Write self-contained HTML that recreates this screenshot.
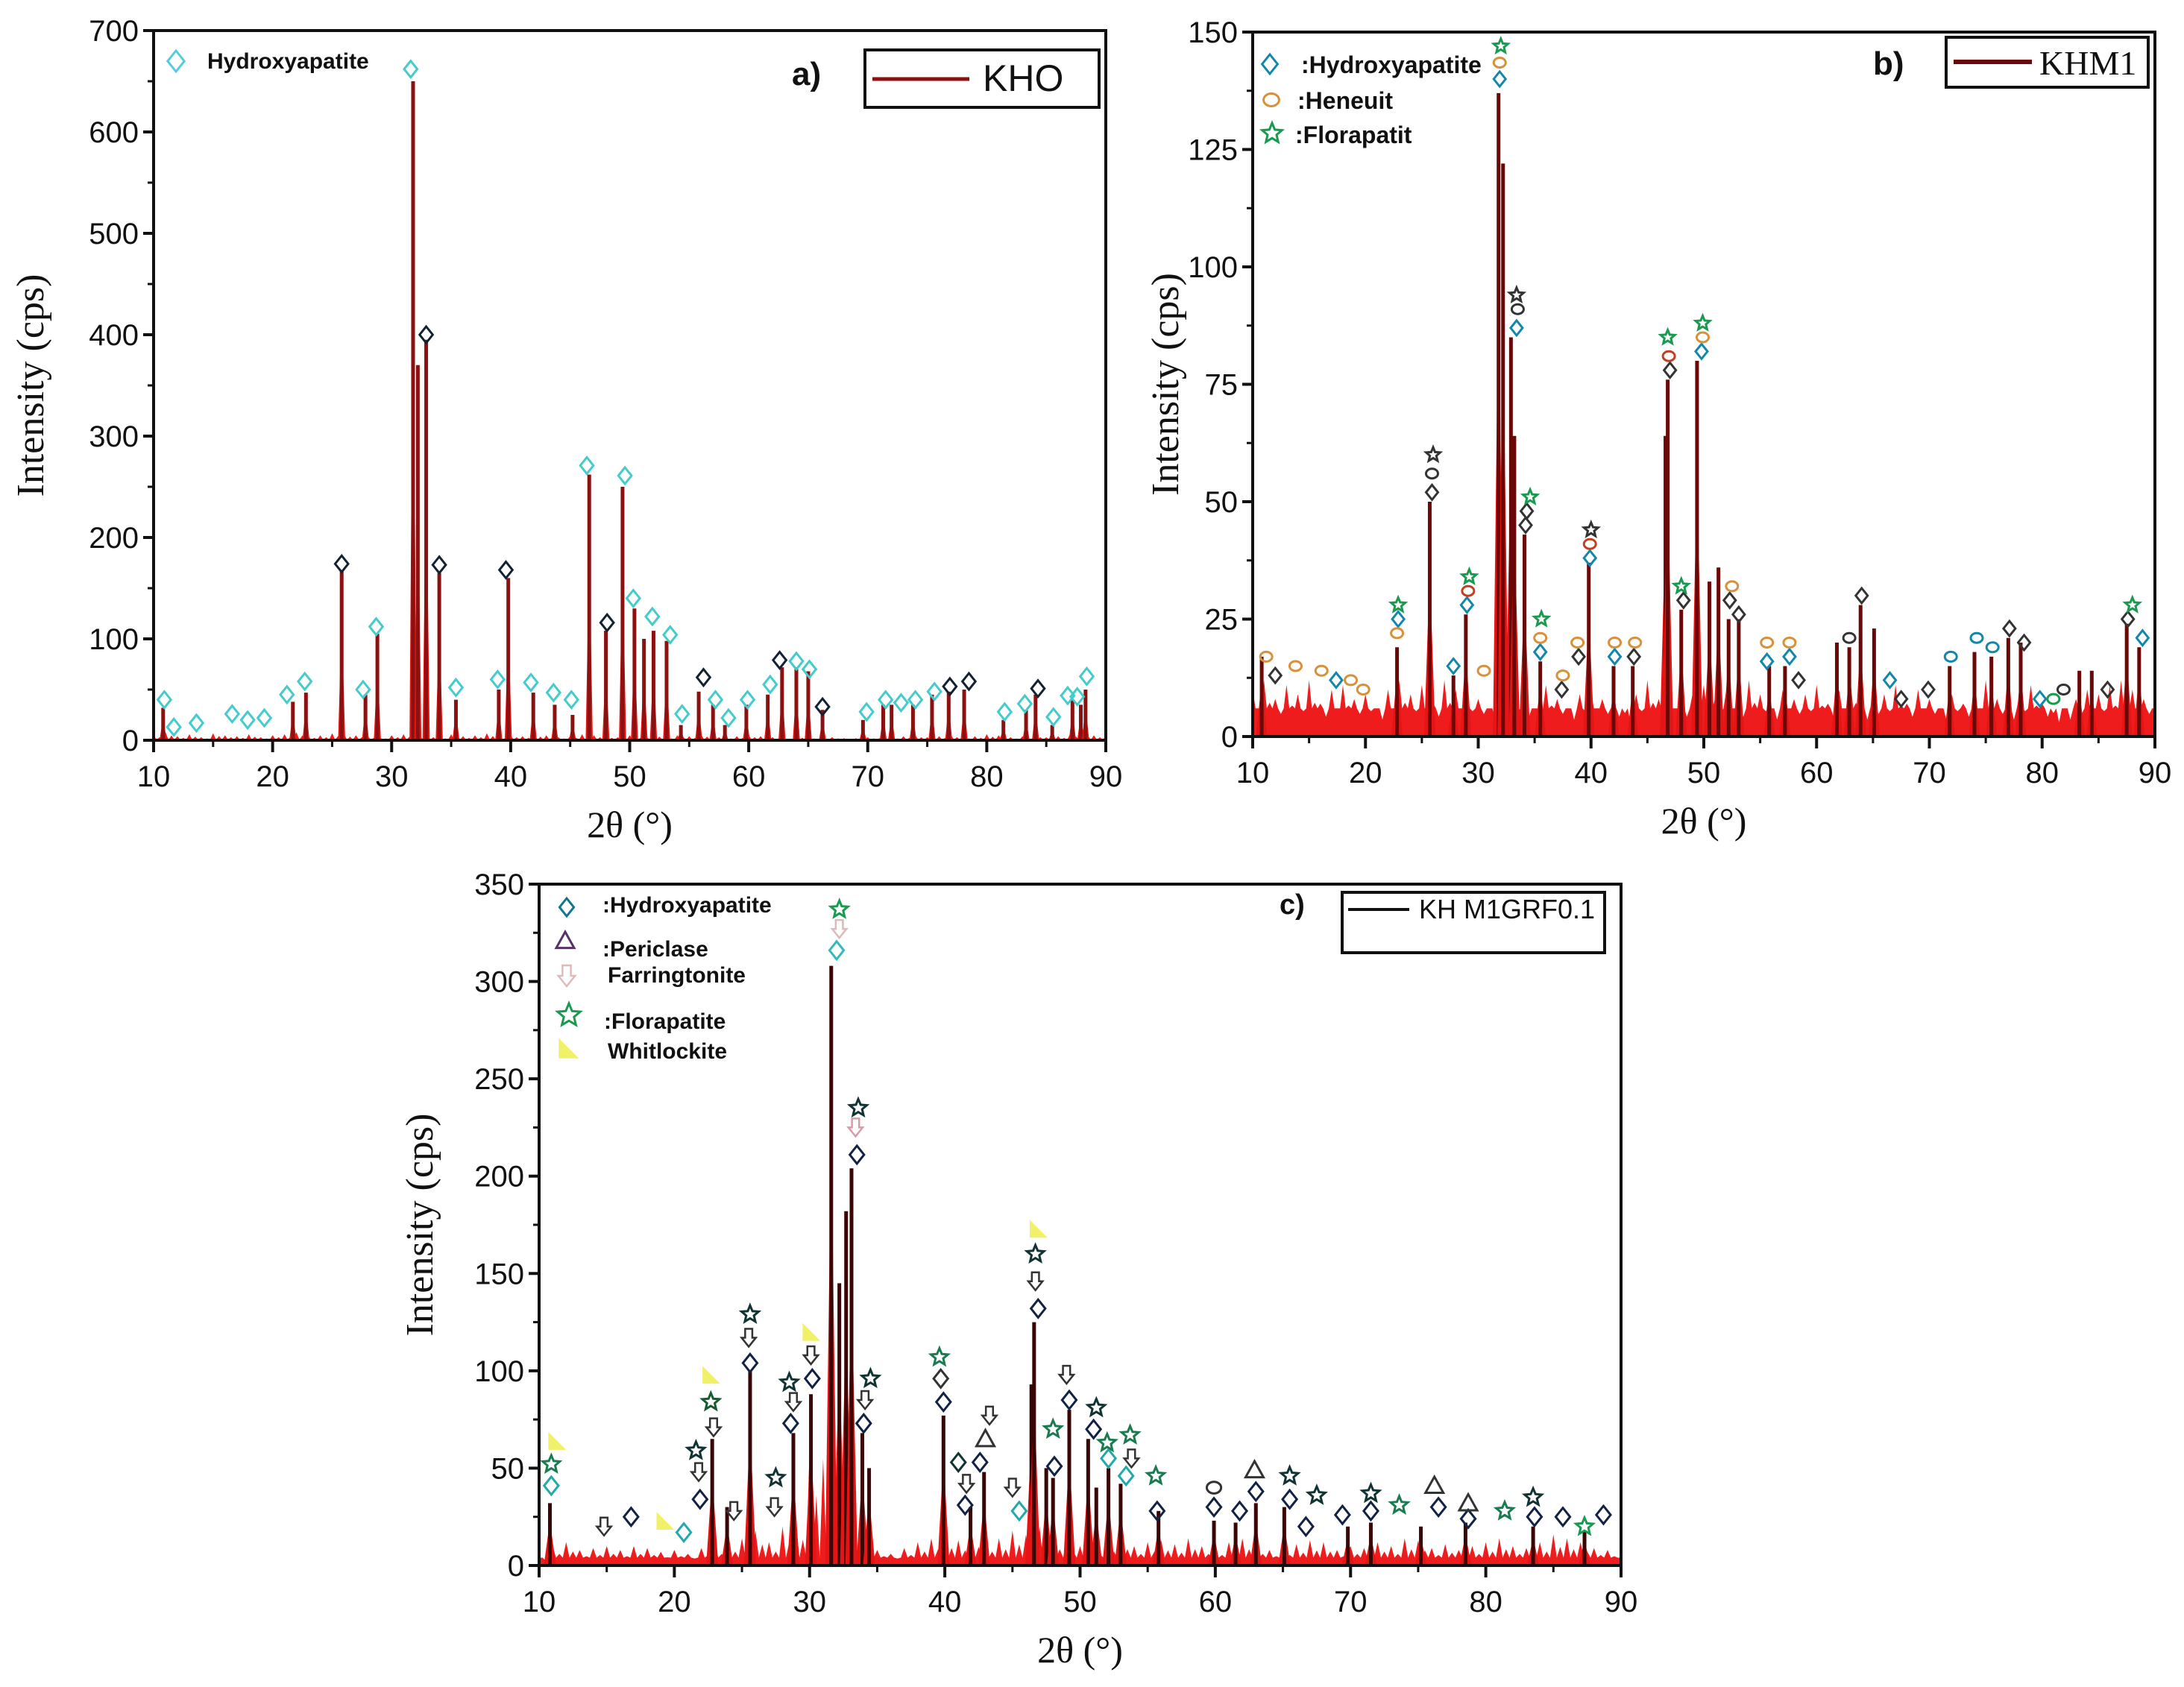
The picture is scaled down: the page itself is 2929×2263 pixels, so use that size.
<!DOCTYPE html>
<html><head><meta charset="utf-8"><style>
html,body{margin:0;padding:0;background:#fff;}
svg{display:block;}
</style></head><body>
<svg id="fig" width="2929" height="2263" viewBox="0 0 2929 2263" xmlns="http://www.w3.org/2000/svg">
<rect x="0" y="0" width="2929" height="2263" fill="#fff"/>
<g id="pa"></g>
<g id="pb"></g>
<g id="pc"></g>
</svg>
<script>
// ---------- data ----------
const xTicks = [10,20,30,40,50,60,70,80,90];
const aYTicks = [0,100,200,300,400,500,600,700];
const bYTicks = [0,25,50,75,100,125,150];
const cYTicks = [0,50,100,150,200,250,300,350];

// baseline noise, every 1 degree from 10 to 90
const aBase = [5,8,4,6,3,7,5,4,6,3,5,6,8,4,5,7,6,5,4,3,5,6,4,5,3,6,4,5,7,3,5,4,6,5,3,4,6,5,4,3,5,4,6,3,5,4,6,5,3,4,5,4,3,2,4,3,2,3,2,2,3,2,3,4,5,3,4,5,3,4,6,5,3,4,5,3,4,6,7,5,4];
const bBase = [10,12,8,11,9,12,7,10,11,8,9,6,10,12,9,11,7,12,10,9,8,6,5,9,7,6,11,8,6,9,10,8,7,5,9,12,8,10,7,9,11,8,10,7,12,9,6,10,8,9,11,7,10,12,6,8,9,11,7,10,8,6,9,7,10,12,8,6,9,11,7,5,6,8,10,9,11,12,10,8,6];
const cBase = [4,10,12,8,9,10,8,10,9,7,8,6,9,10,12,14,18,12,20,22,60,55,40,12,10,8,6,9,12,14,15,13,16,12,14,18,16,20,14,12,10,9,12,14,10,12,13,11,14,10,9,12,14,10,8,9,11,13,12,8,10,9,12,10,14,13,9,11,8,10,12,14,10,9,12,16,14,12,9,8,4];

const aPeakPos = [10.8,21.7,22.8,25.8,27.8,28.8,31.8,32.2,32.9,34.0,35.4,39.0,39.8,41.9,43.7,45.2,46.6,48.0,49.4,50.4,51.2,52.0,53.1,54.3,55.8,57.0,58.0,59.8,61.6,62.8,64.0,65.0,66.2,69.6,71.3,72.0,73.8,75.4,76.8,78.1,81.4,83.3,84.1,85.5,87.2,87.9,88.3];
const aPeakVal = [32,38,47,168,45,105,650,370,395,165,40,50,160,47,35,25,262,108,250,130,100,108,98,15,48,35,15,35,45,72,72,68,30,20,35,35,35,45,48,50,20,30,45,15,40,35,50];

const bPeakPos = [10.8,22.8,25.7,27.8,28.9,31.8,32.2,32.9,33.2,34.1,35.5,39.8,42.0,43.7,46.6,46.8,48.0,49.4,50.5,51.3,52.2,53.1,55.8,57.2,61.8,62.9,63.9,65.1,71.8,74.0,75.5,77.0,78.1,83.3,84.4,87.5,88.6];
const bPeakVal = [17,19,50,13,26,137,122,85,64,43,16,37,15,15,64,76,27,80,33,36,25,25,15,15,20,19,28,23,15,18,17,21,20,14,14,24,19];

const cPeakPos = [10.8,22.8,23.9,25.6,28.8,30.1,31.6,32.2,32.7,33.1,33.9,34.4,39.9,41.9,42.9,46.4,46.6,47.5,48.0,49.2,50.6,51.2,52.1,53.0,55.8,59.9,61.5,63.0,65.1,69.8,71.5,75.2,78.5,83.5,87.3];
const cPeakVal = [32,65,30,100,68,88,308,145,182,204,68,50,77,30,48,93,125,50,45,80,65,40,50,42,28,23,22,32,30,20,22,20,22,20,18];

// markers: [theta, value, type, color]
const aMarks = [[10.9,40,'d','#4cc'],[11.7,13,'d','#4cc'],[13.6,17,'d','#4cc'],[16.6,26,'d','#4cc'],[17.9,20,'d','#4cc'],[19.3,22,'d','#4cc'],[21.2,45,'d','#4cc'],[22.7,58,'d','#4cc'],[25.8,174,'d','#123'],[27.6,50,'d','#4cc'],[28.7,112,'d','#4cc'],[31.6,662,'d','#4cc'],[32.9,400,'d','#123'],[34.0,173,'d','#123'],[35.4,52,'d','#4cc'],[38.9,60,'d','#4cc'],[39.6,168,'d','#123'],[41.7,57,'d','#4cc'],[43.6,47,'d','#4cc'],[45.1,40,'d','#4cc'],[46.4,271,'d','#4cc'],[48.1,116,'d','#123'],[49.6,261,'d','#4cc'],[50.3,140,'d','#4cc'],[51.9,122,'d','#4cc'],[53.4,104,'d','#4cc'],[54.4,26,'d','#4cc'],[56.2,62,'d','#123'],[57.2,40,'d','#4cc'],[58.3,22,'d','#4cc'],[59.9,40,'d','#4cc'],[61.8,55,'d','#4cc'],[62.6,79,'d','#123'],[64.0,78,'d','#4cc'],[65.1,70,'d','#4cc'],[66.2,33,'d','#123'],[69.9,28,'d','#4cc'],[71.5,40,'d','#4cc'],[72.8,37,'d','#4cc'],[74.0,40,'d','#4cc'],[75.6,48,'d','#4cc'],[76.9,53,'d','#123'],[78.5,58,'d','#123'],[81.5,28,'d','#4cc'],[83.2,36,'d','#4cc'],[84.3,51,'d','#123'],[85.6,23,'d','#4cc'],[86.8,44,'d','#4cc'],[87.6,43,'d','#4cc'],[88.4,63,'d','#4cc']];
const bMarks = [[31.9,140,'d','#18a'],[31.9,143.5,'o','#d8903a'],[32.0,147,'s','#1a9a50'],[33.4,87,'d','#18a'],[33.5,91,'o','#333'],[33.4,94,'s','#333'],[34.2,45,'d','#333'],[34.3,48,'d','#333'],[34.6,51,'s','#1a9a50'],[25.9,52,'d','#333'],[25.9,56,'o','#333'],[26.0,60,'s','#333'],[22.9,25,'d','#18a'],[22.8,22,'o','#d8903a'],[22.9,28,'s','#1a9a50'],[29.0,28,'d','#18a'],[29.1,31,'o','#c04020'],[29.2,34,'s','#1a9a50'],[39.9,38,'d','#18a'],[39.9,41,'o','#c04020'],[40.0,44,'s','#333'],[47.0,78,'d','#333'],[46.9,81,'o','#c04020'],[46.8,85,'s','#1a9a50'],[49.8,82,'d','#18a'],[49.9,85,'o','#d8903a'],[49.9,88,'s','#1a9a50'],[48.2,29,'d','#333'],[48.0,32,'s','#1a9a50'],[35.5,18,'d','#18a'],[35.5,21,'o','#d8903a'],[35.6,25,'s','#1a9a50'],[11.2,17,'o','#d8903a'],[12.0,13,'d','#333'],[13.8,15,'o','#d8903a'],[16.1,14,'o','#d8903a'],[17.4,12,'d','#18a'],[18.7,12,'o','#d8903a'],[19.8,10,'o','#d8903a'],[27.8,15,'d','#18a'],[30.5,14,'o','#d8903a'],[37.4,10,'d','#333'],[37.5,13,'o','#d8903a'],[38.9,17,'d','#333'],[38.8,20,'o','#d8903a'],[42.1,17,'d','#18a'],[42.1,20,'o','#d8903a'],[43.8,17,'d','#333'],[43.9,20,'o','#d8903a'],[52.3,29,'d','#333'],[52.5,32,'o','#d8903a'],[53.1,26,'d','#333'],[55.6,16,'d','#18a'],[55.6,20,'o','#d8903a'],[57.6,17,'d','#18a'],[57.6,20,'o','#d8903a'],[58.4,12,'d','#333'],[62.9,21,'o','#333'],[64.0,30,'d','#333'],[66.5,12,'d','#18a'],[67.5,8,'d','#333'],[69.9,10,'d','#333'],[71.9,17,'o','#18a'],[74.2,21,'o','#18a'],[75.6,19,'o','#18a'],[77.1,23,'d','#333'],[78.4,20,'d','#333'],[79.8,8,'d','#18a'],[81.0,8,'o','#1a9a50'],[81.9,10,'o','#333'],[85.8,10,'d','#333'],[87.6,25,'d','#333'],[88.0,28,'s','#1a9a50'],[88.9,21,'d','#18a']];
const cMarks = [[10.9,41,'d','#2aa'],[10.9,52,'s','#1a7a50'],[11.2,63,'w','#ee4'],[14.8,20,'a','#333'],[16.8,25,'d','#124'],[19.2,22,'w','#ee4'],[20.7,17,'d','#2aa'],[21.9,34,'d','#124'],[21.8,48,'a','#333'],[21.6,59,'s','#133'],[22.9,71,'a','#333'],[22.7,84,'s','#1a5a30'],[22.6,97,'w','#ee4'],[25.6,104,'d','#124'],[25.5,117,'a','#333'],[25.6,129,'s','#133'],[28.6,73,'d','#124'],[28.8,84,'a','#333'],[28.5,94,'s','#133'],[30.2,96,'d','#124'],[30.1,108,'a','#333'],[30.0,119,'w','#ee4'],[32.0,316,'d','#3bb'],[32.2,327,'a','#dbb'],[32.2,337,'s','#1a9a50'],[33.5,211,'d','#124'],[33.4,225,'a','#d9a'],[33.6,235,'s','#133'],[34.0,73,'d','#124'],[34.1,85,'a','#333'],[34.5,96,'s','#133'],[27.4,30,'a','#333'],[27.5,45,'s','#133'],[24.4,28,'a','#333'],[39.9,84,'d','#124'],[39.7,96,'d','#333'],[39.6,107,'s','#1a7a50'],[41.5,31,'d','#124'],[41.6,42,'a','#333'],[41.0,53,'d','#133'],[42.6,53,'d','#124'],[43.0,65,'t','#333'],[43.3,77,'a','#333'],[45.5,28,'d','#2aa'],[45.0,40,'a','#333'],[46.9,132,'d','#124'],[46.7,146,'a','#333'],[46.7,160,'s','#133'],[46.8,172,'w','#ee4'],[48.1,51,'d','#124'],[48.0,70,'s','#1a7a50'],[49.2,85,'d','#124'],[49.0,98,'a','#333'],[51.0,70,'d','#124'],[51.2,81,'s','#133'],[52.1,55,'d','#2aa'],[52.0,63,'s','#1a7a50'],[53.4,46,'d','#2aa'],[53.8,55,'a','#333'],[53.7,67,'s','#1a7a50'],[55.7,28,'d','#124'],[55.6,46,'s','#1a7a50'],[59.9,30,'d','#124'],[59.9,40,'o','#333'],[61.8,28,'d','#124'],[63.0,38,'d','#124'],[62.9,49,'t','#333'],[65.5,34,'d','#124'],[65.5,46,'s','#133'],[66.7,20,'d','#124'],[67.5,36,'s','#133'],[69.4,26,'d','#124'],[71.5,28,'d','#124'],[71.5,37,'s','#133'],[73.6,31,'s','#1a7a50'],[76.5,30,'d','#124'],[76.2,41,'t','#333'],[78.7,24,'d','#124'],[78.7,32,'t','#333'],[81.4,28,'s','#1a7a50'],[83.6,25,'d','#124'],[83.5,35,'s','#133'],[85.7,25,'d','#124'],[87.3,20,'s','#1a9a50'],[88.7,26,'d','#124']];

// ---------- drawing ----------
const NS = 'http://www.w3.org/2000/svg';
function mk(parent, tag, attrs, text){
  const e = document.createElementNS(NS, tag);
  for (const k in attrs) e.setAttribute(k, attrs[k]);
  if (text !== undefined) e.textContent = text;
  parent.appendChild(e);
  return e;
}
function markerShape(g, t, cx, cy, s, col){
  let e;
  if (t==='d') e = mk(g,'path',{d:`M${cx} ${cy-s} L${cx+s*0.8} ${cy} L${cx} ${cy+s} L${cx-s*0.8} ${cy} Z`,fill:'none',stroke:col,'stroke-width':3});
  else if (t==='o') e = mk(g,'ellipse',{cx:cx,cy:cy,rx:s*0.8,ry:s*0.65,fill:'none',stroke:col,'stroke-width':3});
  else if (t==='s'){
    let p=[];for(let i=0;i<10;i++){const r=i%2?s*0.45:s;const an=-Math.PI/2+i*Math.PI/5;p.push((cx+r*Math.cos(an)).toFixed(1)+','+(cy+r*Math.sin(an)).toFixed(1));}
    e = mk(g,'polygon',{points:p.join(' '),fill:'none',stroke:col,'stroke-width':3});
  }
  else if (t==='t') e = mk(g,'path',{d:`M${cx} ${cy-s} L${cx+s} ${cy+s*0.8} L${cx-s} ${cy+s*0.8} Z`,fill:'none',stroke:col,'stroke-width':3});
  else if (t==='w') e = mk(g,'path',{d:`M${cx-s*0.7} ${cy-s} L${cx+s} ${cy+s*0.7} L${cx-s*0.7} ${cy+s*0.7} Z`,fill:col,stroke:col,'stroke-width':2,opacity:0.8});
  else e = mk(g,'path',{d:`M${cx-s*0.4} ${cy-s} L${cx+s*0.4} ${cy-s} L${cx+s*0.4} ${cy} L${cx+s*0.8} ${cy} L${cx} ${cy+s} L${cx-s*0.8} ${cy} L${cx-s*0.4} ${cy} Z`,fill:'none',stroke:col,'stroke-width':2.5});
  return e;
}

function drawPanel(id, cfg){
  const g = document.getElementById(id);
  const L=cfg.L,R=cfg.R,T=cfg.T,B=cfg.B,max=cfg.max;
  const x = t => L + (t-10)/80*(R-L);
  const y = v => B - v/max*(B-T);
  // baseline red fill
  let pts = [x(10)+','+B];
  cfg.base.forEach((v,i)=>{
    const t=10+i;
    pts.push(x(t)+','+y(v));
    if(t<90){
      pts.push(x(t+0.25)+','+y(cfg.floor));
      pts.push(x(t+0.5)+','+y(v*0.6));
      pts.push(x(t+0.75)+','+y(cfg.floor));
    }
  });
  pts.push(x(90)+','+B);
  const area = mk(g,'polygon',{points:pts.join(' '),fill:'#ee1c1c'});
  
  
  // peaks
  const w = cfg.pw;
  cfg.pos.forEach((t,i)=>{
    const v=cfg.val[i];
    const f = mk(g,'polygon',{points:`${x(t-w)},${B} ${x(t-w*0.3)},${y(v*0.5)} ${x(t)},${y(v*0.92)} ${x(t+w*0.3)},${y(v*0.5)} ${x(t+w)},${B}`,fill:'#e51515'});
    
    
    const ln = mk(g,'line',{x1:x(t),y1:B,x2:x(t),y2:y(v),stroke:cfg.stick,'stroke-width':5});
    
    
  });
  // markers
  cfg.marks.forEach(m=>{
    const e = markerShape(g, m[2], x(m[0]), y(m[1]), cfg.ms, m[3]);
    
    
  });
  // frame
  const fr = mk(g,'rect',{x:L,y:T,width:R-L,height:B-T,fill:'none',stroke:'#111','stroke-width':4});
  
  
  // x ticks
  xTicks.forEach((t,i)=>{
    mk(g,'line',{x1:x(t),y1:B,x2:x(t),y2:B+16,stroke:'#111','stroke-width':4});
    if(i<xTicks.length-1) mk(g,'line',{x1:x(t+5),y1:B,x2:x(t+5),y2:B+9,stroke:'#111','stroke-width':3});
    const tl = mk(g,'text',{x:x(t),y:B+62,'text-anchor':'middle','font-family':'Liberation Sans, sans-serif','font-size':cfg.fs,fill:'#111'},String(t));
    
    
  });
  cfg.yt.forEach((v,i)=>{
    mk(g,'line',{x1:L-14,y1:y(v),x2:L,y2:y(v),stroke:'#111','stroke-width':4});
    if(i<cfg.yt.length-1){const h=(cfg.yt[1]-cfg.yt[0])/2; mk(g,'line',{x1:L-8,y1:y(v+h),x2:L,y2:y(v+h),stroke:'#111','stroke-width':3});}
    const tl = mk(g,'text',{x:L-20,y:y(v)+14,'text-anchor':'end','font-family':'Liberation Sans, sans-serif','font-size':cfg.fs,fill:'#111'},String(v));
    
    
  });
  const yt = mk(g,'text',{x:0,y:0,transform:`translate(${cfg.ylx},${(T+B)/2}) rotate(-90)`,'text-anchor':'middle','font-family':'Liberation Serif, serif','font-size':52,fill:'#111'},'Intensity (cps)');
  
  
  const xt = mk(g,'text',{x:(L+R)/2,y:B+130,'text-anchor':'middle','font-family':'Liberation Serif, serif','font-size':50,fill:'#111'},cfg.xlab);
  
  
}

drawPanel('pa',{L:206,R:1483,T:41,B:993,max:700,base:aBase,floor:0.5,pw:0.3,pos:aPeakPos,val:aPeakVal,marks:aMarks,stick:'#8b1010',yt:aYTicks,fs:40,ms:11,ylx:58,xlab:'2θ (°)'});
drawPanel('pb',{L:1680,R:2890,T:43,B:988,max:150,base:bBase,floor:6,pw:0.5,pos:bPeakPos,val:bPeakVal,marks:bMarks,stick:'#6a0808',yt:bYTicks,fs:40,ms:10,ylx:1580,xlab:'2θ (°)'});
drawPanel('pc',{L:723,R:2174,T:1186,B:2100,max:350,base:cBase,floor:4,pw:0.45,pos:cPeakPos,val:cPeakVal,marks:cMarks,stick:'#3a0505',yt:cYTicks,fs:40,ms:12,ylx:580,xlab:'2θ (°)'});

// ---------- legends / labels ----------
const ga=document.getElementById('pa'), gb=document.getElementById('pb'), gc=document.getElementById('pc');
function txt(g,name,x,y,s,fs,fam,weight){
  const t = mk(g,'text',{x:x,y:y,'font-family':fam||'Liberation Sans, sans-serif','font-size':fs,'font-weight':weight||'normal',fill:'#111'},s);
  
  
  return t;
}
// panel a
markerShape(ga,'d',236,82,14,'#5cd');
txt(ga,'legend-hydroxyapatite',278,92,'Hydroxyapatite',30,null,'bold');
txt(ga,'panel-label-a',1062,114,'a)',44,null,'bold');
let lb = mk(ga,'rect',{x:1160,y:67,width:314,height:77,fill:'#fff',stroke:'#111','stroke-width':4});


mk(ga,'line',{x1:1170,y1:106,x2:1300,y2:106,stroke:'#8b1010','stroke-width':5});
txt(ga,'legend-kho',1318,122,'KHO',50);
// panel b
markerShape(gb,'d',1703,86,13,'#18a'); txt(gb,'legend-hydroxyapatite',1745,98,':Hydroxyapatite',32,null,'bold');
markerShape(gb,'o',1705,134,13,'#d8903a'); txt(gb,'legend-heneuit',1740,146,':Heneuit',32,null,'bold');
markerShape(gb,'s',1706,179,14,'#1a9a50'); txt(gb,'legend-florapatit',1737,192,':Florapatit',32,null,'bold');
txt(gb,'panel-label-b',2512,100,'b)',44,null,'bold');
lb = mk(gb,'rect',{x:2610,y:50,width:271,height:67,fill:'#fff',stroke:'#111','stroke-width':4});


mk(gb,'line',{x1:2620,y1:83,x2:2725,y2:83,stroke:'#6a0808','stroke-width':6});
txt(gb,'legend-khm1',2735,100,'KHM1',46,'Liberation Serif, serif');
// panel c
markerShape(gc,'d',760,1217,12,'#178'); txt(gc,'legend-hydroxyapatite',808,1224,':Hydroxyapatite',30,null,'bold');
markerShape(gc,'t',758,1262,12,'#536'); txt(gc,'legend-periclase',808,1283,':Periclase',30,null,'bold');
markerShape(gc,'a',760,1309,14,'#dbb'); txt(gc,'legend-farringtonite',815,1318,'Farringtonite',30,null,'bold');
markerShape(gc,'s',763,1362,16,'#1a9a50'); txt(gc,'legend-florapatite',810,1380,':Florapatite',30,null,'bold');
markerShape(gc,'w',760,1409,14,'#ee4'); txt(gc,'legend-whitlockite',815,1420,'Whitlockite',30,null,'bold');
txt(gc,'panel-label-c',1716,1226,'c)',38,null,'bold');
lb = mk(gc,'rect',{x:1800,y:1197,width:352,height:81,fill:'#fff',stroke:'#111','stroke-width':4});


mk(gc,'line',{x1:1808,y1:1220,x2:1890,y2:1220,stroke:'#111','stroke-width':4});
txt(gc,'legend-khm1grf01',1903,1232,'KH M1GRF0.1',36);
</script>
</body></html>
